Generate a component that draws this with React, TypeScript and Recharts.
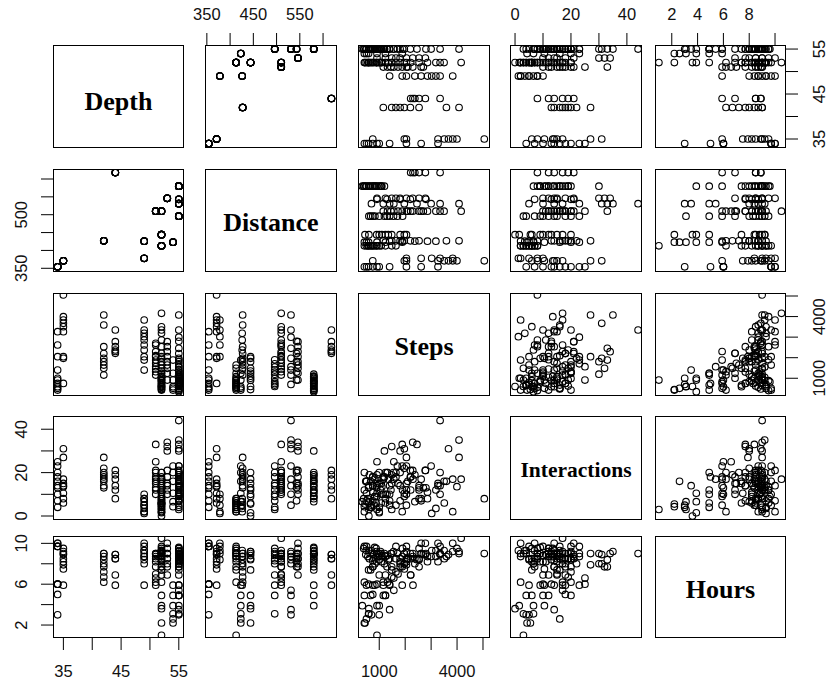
import React from 'react';
import { ScatterChart, Scatter, XAxis, YAxis } from 'recharts';

// ---- data (one entry per observation; grouped by site) ----
const depth = [
  34, 34, 34, 34, 34, 34, 34, 34, 34, 34,
  35, 35, 35, 35, 35, 35, 35, 35, 35,
  49, 49, 49, 49, 49,
  49, 49, 49, 49, 49,
  42, 42, 42, 42, 42, 42, 42, 42, 42,
  44, 44, 44, 44, 44, 44,
  54, 54, 54, 54, 54, 54,
  52, 52, 52, 52, 52, 52, 52, 52, 52, 52, 52,
  52, 52, 52, 52, 52, 52, 52, 52,
  52, 52, 52, 52, 52, 52, 52,
  51, 51, 51, 51, 51, 51, 51, 51, 51,
  53, 53, 53, 53, 53, 53, 53, 53, 53,
  55, 55, 55, 55, 55, 55, 55, 55,
  55, 55, 55, 55, 55, 55, 55, 55, 55,
  55, 55, 55, 55, 55,
  55, 55, 55, 55, 55, 55, 55, 55, 55, 55, 55, 55, 55, 55, 55,
  52, 52, 52, 52, 52, 52, 52, 55, 55, 55, 55, 55, 55, 55, 51, 51,
];
const distance = [
  354, 354, 354, 354, 354, 354, 354, 354, 354, 354,
  371, 371, 371, 371, 371, 371, 371, 371, 371,
  378, 378, 378, 378, 378,
  426, 426, 426, 426, 426,
  427, 427, 427, 427, 427, 427, 427, 427, 427,
  618, 618, 618, 618, 618, 618,
  423, 423, 423, 423, 423, 423,
  413, 413, 413, 413, 413, 413, 413, 413, 413, 413, 413,
  444, 444, 444, 444, 444, 444, 444, 444,
  510, 510, 510, 510, 510, 510, 510,
  510, 510, 510, 510, 510, 510, 510, 510, 510,
  546, 546, 546, 546, 546, 546, 546, 546, 546,
  496, 496, 496, 496, 496, 496, 496, 496,
  531, 531, 531, 531, 531, 531, 531, 531, 531,
  543, 543, 543, 543, 543,
  580, 580, 580, 580, 580, 580, 580, 580, 580, 580, 580, 580, 580, 580, 580,
  413, 413, 413, 413, 444, 444, 444, 580, 580, 580, 580, 496, 496, 496, 510, 510,
];
const steps = [
  3265, 2616, 2048, 1400, 1000, 913, 750, 589, 427, 510,
  5050, 3995, 3833, 3670, 3508, 3265, 2048, 1967, 750,
  3833, 3346, 3022, 2616, 2048,
  3184, 2860, 2373, 1886, 1400,
  4076, 3590, 2535, 1967, 1805, 1643, 1481, 1157, 2200,
  3346, 2778, 2535, 2373, 2211, 2300,
  1886, 1238, 913, 589, 508, 427,
  1643, 1481, 1238, 1076, 750, 589, 427, 913, 500, 650, 800,
  2050, 1967, 1805, 1481, 1238, 1000, 600, 450,
  4158, 3346, 3184, 2860, 2535, 2211, 3500,
  2616, 2292, 2048, 1886, 1724, 1562, 1319, 1157, 2700,
  2778, 2535, 2292, 2048, 1805, 1643, 1481, 1238, 913,
  1900, 1700, 1400, 1200, 1000, 832, 670, 600,
  3346, 4076, 3000, 2454, 1967, 1562, 1157, 1400, 700,
  2800, 2200, 1805, 1300, 913,
  1200, 1100, 994, 900, 832, 750, 670, 508, 427, 346, 1076, 913, 589, 760, 400,
  700, 560, 1000, 880, 1100, 900, 1350, 620, 1050, 480, 820, 1550, 1300, 750, 1450, 2100,
];
const interactions = [
  14, 7, 23, 10, 4, 25, 18, 13, 20, 16,
  8, 13.5, 17, 31, 6, 15, 27, 10.5, 14,
  2, 10, 1.2, 8, 5,
  3.5, 8, 6.6, 2, 5,
  27, 16, 13, 22, 14, 20, 19, 17, 18,
  14, 21, 8, 19, 12, 17,
  23, 20, 10.5, 6.6, 16, 4.3,
  5, 3, 8, 6, 7, 6, 2, 3, 7, 4, 5,
  12, 9, 20, 15, 6, 1.5, 0, 5.5,
  17, 20, 12, 11, 14, 18, 16,
  17, 21, 10, 33, 15, 25, 20, 18, 13,
  21, 12, 34, 15, 30, 18, 32, 10, 14,
  12, 23, 7, 18, 15, 9, 4, 3,
  44, 35, 23, 33, 31, 17, 10, 14, 5,
  13, 21, 7, 20, 15,
  30, 13.5, 20, 9, 17, 18, 16, 10.5, 12, 6.6, 15, 19, 14, 11, 8,
  4, 8, 2, 6, 10, 13, 17, 19, 12, 16, 9, 20, 10, 14, 12, 16,
];
const hours = [
  10, 10, 9.7, 6, 3, 6, 5, 6, 9.7, 9.7,
  9, 9.5, 9.2, 8.9, 8.5, 8.2, 7.9, 7.5, 5.9,
  10, 9.7, 9.3, 9, 8.4,
  9.3, 8.7, 8, 8.7, 5.9,
  9, 8.7, 8.4, 8, 7.7, 7.2, 6.7, 6.2, 9,
  8.9, 8.9, 8.5, 8.5, 6.9, 5.9,
  5.9, 4.9, 3.9, 3.1, 2.6, 2.2,
  9.7, 9, 8.7, 8.2, 7.7, 7.4, 6.2, 1.0, 9.3, 9, 8.5,
  9.2, 9, 8.5, 7.4, 4.9, 3.9, 3.6, 2.2,
  10.5, 9, 8.7, 8.2, 7.7, 6.9, 9.3,
  9, 8.7, 8.2, 7.7, 7, 6.6, 6.2, 5.9, 8.9,
  10, 9.5, 9, 8.5, 8, 8.5, 7.7, 6.9, 9,
  9.5, 9, 8.5, 8, 6.9, 5.9, 4.9, 3.1,
  9, 9.2, 8.7, 8.4, 8, 5.4, 4.9, 3.5, 3,
  9, 8.5, 8.2, 7.7, 8.7,
  9, 8.7, 8.4, 8.2, 8, 7.7, 7.4, 5.9, 4.9, 3.9, 9, 9, 9.3, 8.9, 9.5,
  9.3, 8.7, 9, 9.5, 8.8, 9.2, 8.4, 8.5, 9.2, 8.9, 9.6, 9.2, 8.8, 8.3, 9, 8.5,
];

const variableNames = ['Depth', 'Distance', 'Steps', 'Interactions', 'Hours'];
const variableValues = [depth, distance, steps, interactions, hours];

// tick marks per variable
const tickValues = [
  [35, 40, 45, 50, 55],
  [350, 400, 450, 500, 550, 600],
  [1000, 2000, 3000, 4000, 5000],
  [0, 10, 20, 30, 40],
  [2, 4, 6, 8, 10],
];
// tick labels that are printed on each outer side
const topAxisLabels: Record<number, number[]> = { 1: [350, 450, 550], 3: [0, 20, 40], 4: [2, 4, 6, 8] };
const bottomAxisLabels: Record<number, number[]> = { 0: [35, 45, 55], 2: [1000, 4000] };
const leftAxisLabels: Record<number, number[]> = { 1: [350, 500], 3: [0, 20, 40], 4: [2, 6, 10] };
const rightAxisLabels: Record<number, number[]> = { 0: [35, 45, 55], 2: [1000, 4000] };

// axis ranges as drawn
const xDomains: [number, number][] = [[33.2, 55.9], [346, 630], [181, 5270], [-1.8, 45.4], [0.7, 10.85]];
const yDomains: [number, number][] = [[33, 55.9], [339.6, 628], [137, 5146], [-1.84, 46.1], [0.73, 10.72]];

// ---- layout ----
const columns = [[53, 184], [205, 337], [358, 490], [510, 642], [655, 786]];
const rows = [[45, 148], [169, 272], [293, 396], [416, 520], [536, 638]];
const diagFontSize = [26, 26, 26, 21.5, 26];
const diagBaseline = [110, 231, 355, 477, 598];
const AX = 44;
const TICK_FONT = '"Liberation Sans", Arial, Helvetica, sans-serif';
const TICK_SIZE = 16.5;

function Ring(props: any) {
  const { cx, cy } = props;
  if (cx == null || cy == null) return null;
  return <circle cx={cx} cy={cy} r={3.3} fill="none" stroke="#000" strokeWidth={1.1} />;
}

function makeTick(kind: 'h' | 'v', labels: number[], pos: number) {
  return (p: any) => {
    const v = p && p.payload ? p.payload.value : undefined;
    if (!labels.includes(v)) return <g />;
    if (kind === 'h') {
      return (
        <text x={p.x} y={pos} textAnchor="middle" dominantBaseline="central" fontFamily={TICK_FONT} fontSize={TICK_SIZE} fill="#111">
          {v}
        </text>
      );
    }
    return (
      <text x={pos} y={p.y} transform={`rotate(-90 ${pos} ${p.y})`} textAnchor="middle" dominantBaseline="central" fontFamily={TICK_FONT} fontSize={TICK_SIZE} fill="#111">
        {v}
      </text>
    );
  };
}

function Panel({ i, j }: { i: number; j: number }) {
  const top = i === 0 ? topAxisLabels[j] : undefined;
  const bottom = i === 4 ? bottomAxisLabels[j] : undefined;
  const left = j === 0 ? leftAxisLabels[i] : undefined;
  const right = j === 4 ? rightAxisLabels[i] : undefined;
  const hasX = !!(top || bottom);
  const hasY = !!(left || right);
  const lw = left ? AX : 0;
  const rw = right ? AX : 0;
  const th = top ? AX : 0;
  const bh = bottom ? AX : 0;
  const pw = columns[j][1] - columns[j][0];
  const ph = rows[i][1] - rows[i][0];
  const data = variableValues[j].map((v, k) => ({ x: v, y: variableValues[i][k] }));
  const xLabelPos = top ? th - 31 : th + ph + 33;
  const yLabelPos = left ? lw - 32 : lw + pw + 33;
  return (
    <div style={{ position: 'absolute', left: columns[j][0] - lw, top: rows[i][0] - th, overflow: 'visible' }}>
      <ScatterChart width={pw + lw + rw} height={ph + th + bh} margin={{ top: 0, right: 0, bottom: 0, left: 0 }}>
        <XAxis
          type="number"
          dataKey="x"
          domain={xDomains[j]}
          allowDataOverflow
          hide={!hasX}
          height={hasX ? AX : 0}
          orientation={top ? 'top' : 'bottom'}
          ticks={tickValues[j]}
          interval={0}
          tickSize={12}
          tickLine={{ stroke: '#000', strokeWidth: 1 }}
          axisLine={false}
          tick={makeTick('h', top || bottom || [], xLabelPos)}
        />
        <YAxis
          type="number"
          dataKey="y"
          domain={yDomains[i]}
          allowDataOverflow
          hide={!hasY}
          width={hasY ? AX : 0}
          orientation={left ? 'left' : 'right'}
          ticks={tickValues[i]}
          interval={0}
          tickSize={12}
          tickLine={{ stroke: '#000', strokeWidth: 1 }}
          axisLine={false}
          tick={makeTick('v', left || right || [], yLabelPos)}
        />
        <Scatter data={data} shape={Ring} isAnimationActive={false} />
      </ScatterChart>
    </div>
  );
}

export default function App() {
  const panels: React.ReactNode[] = [];
  for (let i = 0; i < 5; i++) {
    for (let j = 0; j < 5; j++) {
      if (i !== j) panels.push(<Panel key={`${i}-${j}`} i={i} j={j} />);
    }
  }
  return (
    <div style={{ position: 'absolute', left: 0, top: 0, width: 827, height: 683, overflow: 'hidden', background: '#fff' }}>
      <style>{'.recharts-surface{overflow:visible !important}.recharts-wrapper{overflow:visible !important}'}</style>
      <svg width={827} height={683} style={{ position: 'absolute', left: 0, top: 0 }}>
        {rows.map((r, i) =>
          columns.map((c, j) => (
            <rect key={`f-${i}-${j}`} x={c[0] + 0.5} y={r[0] + 0.5} width={c[1] - c[0] - 1} height={r[1] - r[0] - 1} fill="none" stroke="#000" strokeWidth={1} />
          ))
        )}
        {variableNames.map((name, k) => (
          <text
            key={name}
            x={(columns[k][0] + columns[k][1]) / 2}
            y={diagBaseline[k]}
            textAnchor="middle"
            fontFamily='"Liberation Serif", "Times New Roman", serif'
            fontWeight="bold"
            fontSize={diagFontSize[k]}
            fill="#000"
          >
            {name}
          </text>
        ))}
      </svg>
      {panels}
    </div>
  );
}
